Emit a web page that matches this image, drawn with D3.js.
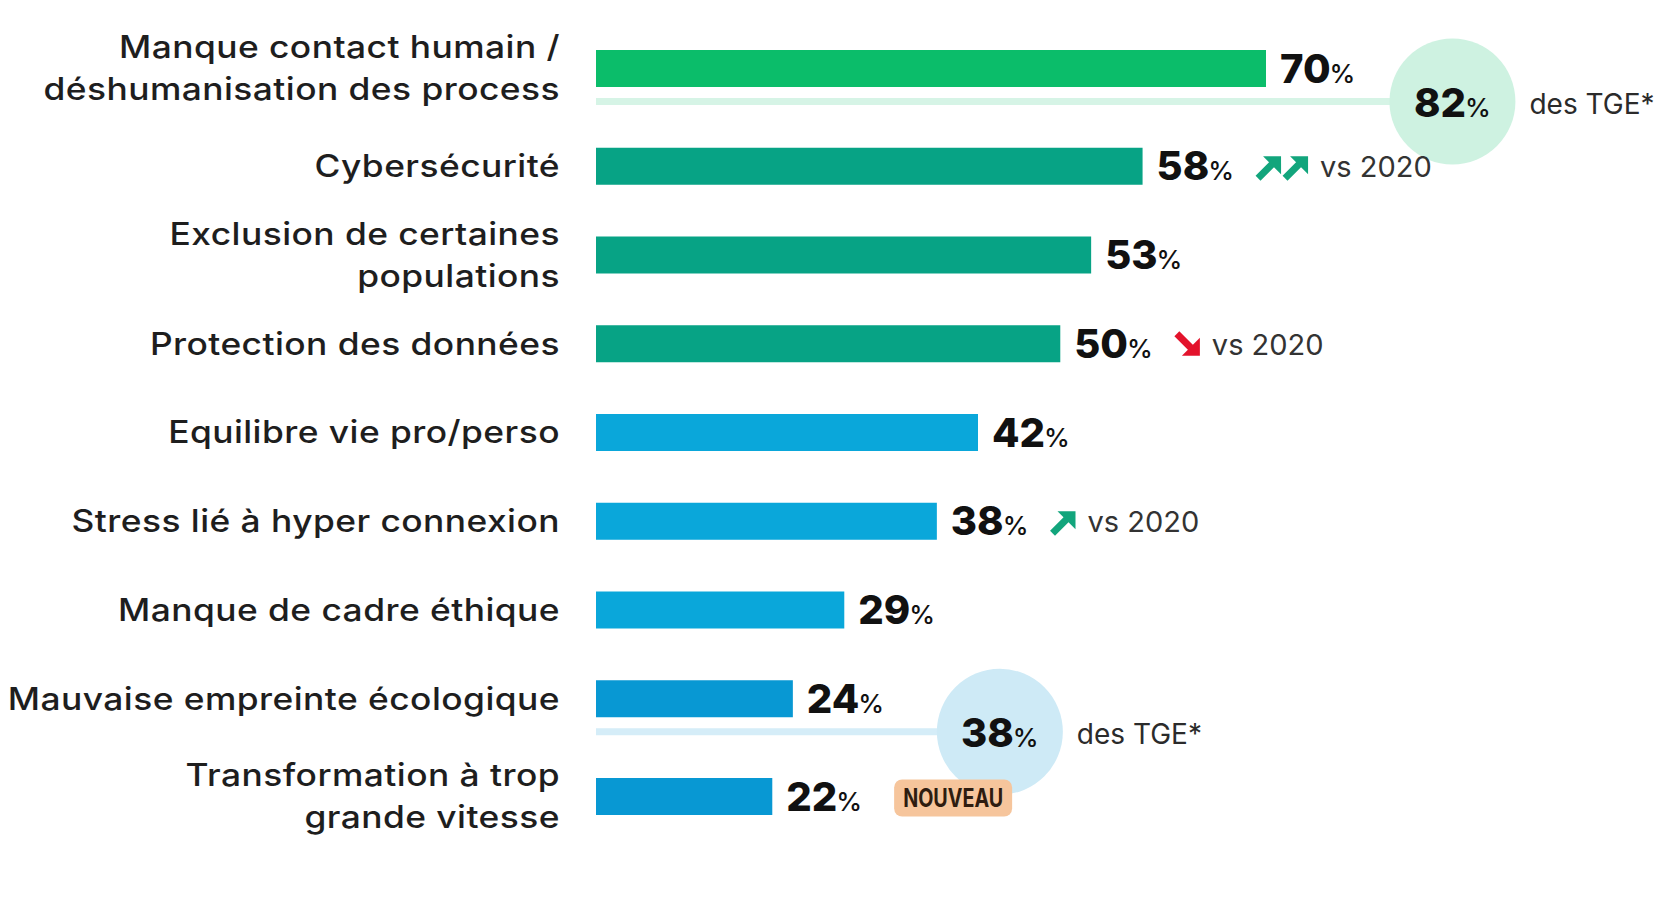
<!DOCTYPE html>
<html>
<head>
<meta charset="utf-8">
<script src="https://cdn.jsdelivr.net/npm/d3@7"></script>
<style>
    body { margin: 0; background: #fff; }
    text { font-family: Inter, "Open Sans", sans-serif; }
</style>
</head>
<body>
<div class="canvas"></div>
<script>
// categories, top to bottom ("\n" = line break)
const categories = [
    'Manque contact humain /\ndéshumanisation des process',
    'Cybersécurité',
    'Exclusion de certaines\npopulations',
    'Protection des données',
    'Equilibre vie pro/perso',
    'Stress lié à hyper connexion',
    'Manque de cadre éthique',
    'Mauvaise empreinte écologique',
    'Transformation à trop\ngrande vitesse'
];

// % of respondents
const values = [70, 58, 53, 50, 42, 38, 29, 24, 22];

// change vs 2020 : number of arrows, sign gives direction
const trends = [0, 2, 0, -1, 0, 1, 0, 0, 0];
const trendLabel = 'vs 2020';

// score among the TGE
const tgeValues = [82, null, null, null, null, null, null, 38, null];
const tgeLabel = 'des TGE*';

// new item this year
const newItems = [false, false, false, false, false, false, false, false, true];
const newLabel = 'NOUVEAU';

// dimensions
const dims = { width: 1666, height: 907 };
const layout = { barLeft: 596, labelRight: 560, top: 68.5, step: 88.75, tgeGap: 9, barH: 37, lineH: 42 };

const svg = d3.select('.canvas')
    .append('svg')
    .attr('width', dims.width)
    .attr('height', dims.height);

// x scale (the infographic doesn't start its bars at zero)
const x = d3.scaleLinear()
    .domain([0, 70])
    .range([546, 1266]);

// rows, with a little extra room below the rows carrying a TGE line
const yPoint = d3.scalePoint()
    .domain(d3.range(categories.length))
    .range([layout.top, layout.top + layout.step * (categories.length - 1)]);

const y = i => yPoint(i) + layout.tgeGap * tgeValues.slice(0, i).filter(v => v != null).length;

// colours by level
const color = d3.scaleThreshold()
    .domain([25, 45, 65])
    .range(['#0898d3', '#0aa7da', '#07a385', '#0bbd6a']);

const light = (v, t) => d3.interpolateRgb(color(v), '#fff')(t);

const rows = categories.map((c, i) => ({
    cat: c, value: values[i], trend: trends[i], tge: tgeValues[i], isNew: newItems[i], i
}));

// TGE lines + circles go behind everything
const tgeRows = rows.filter(d => d.tge != null);
const r = 63;

svg.selectAll('rect.tge-line')
    .data(tgeRows)
    .enter()
    .append('rect')
        .attr('class', 'tge-line')
        .attr('x', layout.barLeft)
        .attr('y', d => y(d.i) + 33 - 3.5)
        .attr('width', d => x(d.tge) + r - layout.barLeft)
        .attr('height', 7)
        .attr('fill', d => light(d.value, 0.83));

svg.selectAll('circle.tge')
    .data(tgeRows)
    .enter()
    .append('circle')
        .attr('class', 'tge')
        .attr('cx', d => x(d.tge) + r)
        .attr('cy', d => y(d.i) + 33)
        .attr('r', r)
        .attr('fill', d => light(d.value, 0.8));

// bars
svg.selectAll('rect.bar')
    .data(rows)
    .enter()
    .append('rect')
        .attr('class', 'bar')
        .attr('x', layout.barLeft)
        .attr('y', d => y(d.i) - layout.barH / 2)
        .attr('width', d => x(d.value) - layout.barLeft)
        .attr('height', layout.barH)
        .attr('fill', d => color(d.value));

// category labels (stretched a bit, the original font is a wide one)
const labels = svg.selectAll('text.cat')
    .data(rows)
    .enter()
    .append('text')
        .attr('class', 'cat')
        .attr('transform', `translate(${layout.labelRight},0) scale(1.14,1)`)
        .attr('text-anchor', 'end')
        .attr('font-size', 31)
        .attr('font-weight', 500)
        .attr('letter-spacing', 0.4)
        .attr('fill', '#1e1e1e');

labels.each(function(d) {
    const lines = d.cat.split('\n');
    const y0 = y(d.i) + 11 - (lines.length - 1) * layout.lineH / 2;
    d3.select(this).selectAll('tspan')
        .data(lines)
        .enter()
        .append('tspan')
            .attr('x', 0)
            .attr('y', (l, k) => y0 + k * layout.lineH)
            .text(l => l);
});

// value labels
const valueLabels = svg.selectAll('text.val')
    .data(rows)
    .enter()
    .append('text')
        .attr('class', 'val')
        .attr('x', d => x(d.value) + 14)
        .attr('y', d => y(d.i) + 14)
        .attr('fill', '#111');

valueLabels.append('tspan')
    .attr('font-size', 40)
    .attr('font-weight', 800)
    .text(d => d.value);
valueLabels.append('tspan')
    .attr('font-size', 26)
    .attr('font-weight', 500)
    .attr('dx', -1)
    .text('%');

// right end of each value label
valueLabels.each(function(d) { d.labelEnd = this.getBBox().x + this.getBBox().width; });

// trend arrows + "vs 2020"
const arrowPath = 'M2,22 L16,8';
const headPath = 'M25,0 L25,18 L7,0 Z';

rows.filter(d => d.trend !== 0).forEach(d => {
    const up = d.trend > 0;
    const n = Math.abs(d.trend);
    const x0 = d.labelEnd + 22;
    const cy = y(d.i) + 1;
    const fill = up ? '#12a57c' : '#e3132c';
    for (let k = 0; k < n; k++) {
        const g = svg.append('g')
            .attr('transform', up
                ? `translate(${x0 + k * 27}, ${cy - 11})`
                : `translate(${x0 + k * 27}, ${cy + 11}) scale(1,-1)`);
        g.append('path').attr('d', arrowPath).attr('stroke', fill).attr('stroke-width', 7).attr('fill', 'none');
        g.append('path').attr('d', headPath).attr('fill', fill);
    }
    svg.append('text')
        .attr('x', x0 + n * 27 + 10)
        .attr('y', y(d.i) + 11)
        .attr('font-size', 29)
        .attr('font-weight', 400)
        .attr('fill', '#333')
        .text(trendLabel);
});

// TGE values in circles
const tgeText = svg.selectAll('text.tge')
    .data(tgeRows)
    .enter()
    .append('text')
        .attr('class', 'tge')
        .attr('x', d => x(d.tge) + r)
        .attr('y', d => y(d.i) + 33 + 15)
        .attr('text-anchor', 'middle')
        .attr('fill', '#111');

tgeText.append('tspan')
    .attr('font-size', 40)
    .attr('font-weight', 800)
    .text(d => d.tge);
tgeText.append('tspan')
    .attr('font-size', 26)
    .attr('font-weight', 500)
    .attr('dx', -1)
    .text('%');

svg.selectAll('text.tge-label')
    .data(tgeRows)
    .enter()
    .append('text')
        .attr('class', 'tge-label')
        .attr('x', d => x(d.tge) + 2 * r + 14)
        .attr('y', d => y(d.i) + 33 + 12)
        .attr('font-size', 28)
        .attr('font-weight', 400)
        .attr('fill', '#2b2b2b')
        .text(tgeLabel);

// "NOUVEAU" badge
rows.filter(d => d.isNew).forEach(d => {
    const bx = d.labelEnd + 32;
    svg.append('rect')
        .attr('x', bx)
        .attr('y', y(d.i) - 17)
        .attr('width', 118)
        .attr('height', 37)
        .attr('rx', 8)
        .attr('fill', '#f6c59c');
    svg.append('text')
        .attr('x', bx + 59)
        .attr('y', y(d.i) + 10)
        .attr('text-anchor', 'middle')
        .attr('font-family', '"Liberation Sans Narrow", "DejaVu Sans Condensed", sans-serif')
        .attr('font-size', 25)
        .attr('font-weight', 700)
        .attr('textLength', 100)
        .attr('lengthAdjust', 'spacingAndGlyphs')
        .attr('fill', '#2e1c10')
        .text(newLabel);
});
</script>
</body>
</html>
